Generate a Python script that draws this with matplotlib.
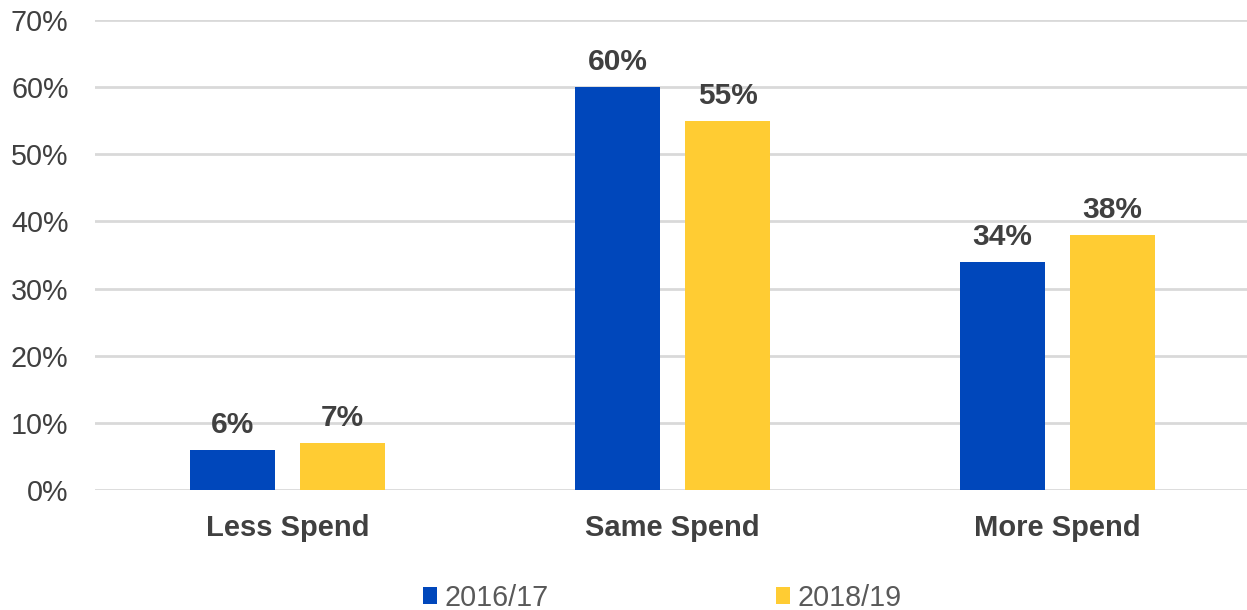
import matplotlib
matplotlib.use("Agg")
import matplotlib.pyplot as plt
import numpy as np
from matplotlib.ticker import FuncFormatter

categories = ["Less Spend", "Same Spend", "More Spend"]
series_names = ["2016/17", "2018/19"]
values_2016 = [6, 60, 34]
values_2018 = [7, 55, 38]
yticks = [0, 10, 20, 30, 40, 50, 60, 70]

plt.rcParams['font.family'] = ['Liberation Sans', 'DejaVu Sans']

fig = plt.figure(figsize=(12.47, 6.10), dpi=100)
ax = fig.add_axes([95/1247, 1-490/610, 1155/1247, (490-20)/610])

x = np.arange(len(categories))
w = 0.223
off = 0.143
c1 = "#0047BB"
c2 = "#FFCC33"
b1 = ax.bar(x - off, values_2016, w, color=c1, label=series_names[0], zorder=3)
b2 = ax.bar(x + off, values_2018, w, color=c2, label=series_names[1], zorder=3)

for bars, vals in ((b1, values_2016), (b2, values_2018)):
    for r, v in zip(bars, vals):
        ax.annotate(f"{v}%", (r.get_x() + r.get_width()/2, v), xytext=(0, 8),
                    textcoords="offset points", ha="center", va="bottom",
                    fontsize=21.5, fontweight="bold", color="#404040")

ax.set_xlim(-0.5, 2.5)
ax.set_ylim(0, 70)
ax.set_yticks(yticks)
ax.yaxis.set_major_formatter(FuncFormatter(lambda v, p: f"{v:.0f}%"))
ax.set_xticks(x)
ax.set_xticklabels(categories, fontsize=21, fontweight="bold", color="#404040")
ax.tick_params(axis="y", labelsize=20.7, labelcolor="#404040", length=0, pad=19)
ax.tick_params(axis="x", length=0, pad=17)
ax.grid(axis="y", color="#d9d9d9", linewidth=2, zorder=0)
for s in ax.spines.values():
    s.set_visible(False)

leg = fig.legend(handles=[b1, b2], loc="center", bbox_to_anchor=(0.531, 0.020),
                 ncol=2, frameon=False, fontsize=20.7, handlelength=0.5, handleheight=0.5,
                 handletextpad=0.25, columnspacing=7.9, labelcolor="#595959")

fig.savefig("out.png", dpi=100)
